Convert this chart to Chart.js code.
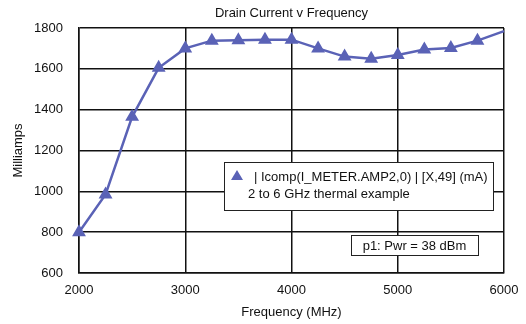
<!DOCTYPE html>
<html>
<head>
<meta charset="utf-8">
<script src="https://cdn.jsdelivr.net/npm/chart.js@4.4.1/dist/chart.umd.min.js"></script>
<style>
html,body{margin:0;padding:0;background:#fff;}
#wrap{width:526px;height:324px;}
</style>
</head>
<body>
<div id="wrap"><canvas id="c" width="526" height="324"></canvas></div>
<script>
const frequencies = [2000, 2250, 2500, 2750, 3000, 3250, 3500, 3750, 4000, 4250, 4500, 4750, 5000, 5250, 5500, 5750, 6000];
const currents = [800, 985, 1365, 1605, 1700, 1738, 1740, 1743, 1743, 1700, 1660, 1650, 1668, 1695, 1702, 1738, 1785];
const xTicks = [2000, 3000, 4000, 5000, 6000];
const yTicks = [600, 800, 1000, 1200, 1400, 1600, 1800];
const chartTitle = 'Drain Current v Frequency';
const xTitle = 'Frequency (MHz)';
const yTitle = 'Milliamps';
const legendLine1 = '| Icomp(I_METER.AMP2,0) | [X,49] (mA)';
const legendLine2 = '2 to 6 GHz thermal example';
const noteText = 'p1: Pwr = 38 dBm';

const FONT = "'Liberation Sans', Arial, sans-serif";
const FS = 13;
const LINE_COLOR = '#5a62b6';

const boxesPlugin = {
  id: 'boxes',
  afterDraw(chart) {
    const ctx = chart.ctx;
    ctx.save();
    // legend box
    ctx.fillStyle = '#fff';
    ctx.strokeStyle = '#222';
    ctx.lineWidth = 1;
    ctx.fillRect(224, 162, 269, 48);
    ctx.strokeRect(224.5, 162.5, 269, 48);
    // triangle
    ctx.fillStyle = LINE_COLOR;
    ctx.beginPath();
    ctx.moveTo(237, 170);
    ctx.lineTo(243, 180);
    ctx.lineTo(231, 180);
    ctx.closePath();
    ctx.fill();
    ctx.fillStyle = '#111';
    ctx.font = FS + 'px ' + FONT;
    ctx.textBaseline = 'middle';
    ctx.textAlign = 'left';
    ctx.fillText(legendLine1, 254, 177);
    ctx.fillText(legendLine2, 248, 194);
    // note box
    ctx.fillStyle = '#fff';
    ctx.fillRect(351, 235, 127, 20);
    ctx.strokeRect(351.5, 235.5, 127, 20);
    ctx.fillStyle = '#111';
    ctx.textAlign = 'center';
    ctx.fillText(noteText, 414.5, 246);
    ctx.restore();
  }
};

new Chart(document.getElementById('c'), {
  type: 'line',
  data: {
    datasets: [{
      label: legendLine1,
      data: frequencies.map((f, i) => ({x: f, y: currents[i]})),
      borderColor: LINE_COLOR,
      backgroundColor: LINE_COLOR,
      borderWidth: 2.5,
      pointStyle: 'triangle',
      pointRadius: frequencies.map((f, i) => i === frequencies.length - 1 ? 0 : 5.5),
      pointHoverRadius: 5.5,
      tension: 0,
      clip: false
    }]
  },
  options: {
    responsive: false,
    animation: false,
    events: [],
    layout: {padding: {left: 0, right: 22, top: 0, bottom: 0}},
    plugins: {
      legend: {display: false},
      tooltip: {enabled: false},
      title: {
        display: true,
        text: chartTitle,
        fullSize: false,
        color: '#111',
        font: {family: FONT, size: FS, weight: 'normal'},
        padding: {top: 6, bottom: 6.4}
      }
    },
    scales: {
      x: {
        type: 'linear',
        min: 2000, max: 6000,
        afterBuildTicks: s => { s.ticks = xTicks.map(v => ({value: v})); },
        afterFit: s => { s.height = 51; s.paddingLeft = 0; s.paddingRight = 0; },
        grid: {color: '#111', lineWidth: 1.5, drawTicks: false},
        border: {color: '#111', width: 1.5},
        ticks: {color: '#111', font: {family: FONT, size: FS}, padding: 10, maxRotation: 0, callback: v => String(v)},
        title: {display: true, text: xTitle, color: '#111', font: {family: FONT, size: FS}, padding: {top: 1}}
      },
      y: {
        min: 600, max: 1800,
        afterBuildTicks: s => { s.ticks = yTicks.map(v => ({value: v})); },
        afterFit: s => { s.width = 79; s.paddingTop = 0; s.paddingBottom = 0; },
        grid: {color: '#111', lineWidth: 1.5, drawTicks: false},
        border: {color: '#111', width: 1.5},
        ticks: {color: '#111', font: {family: FONT, size: FS}, padding: 16, callback: v => String(v)},
        title: {display: true, text: yTitle, color: '#111', font: {family: FONT, size: FS}, padding: {top: 11}}
      }
    }
  },
  plugins: [boxesPlugin]
});
</script>
</body>
</html>
